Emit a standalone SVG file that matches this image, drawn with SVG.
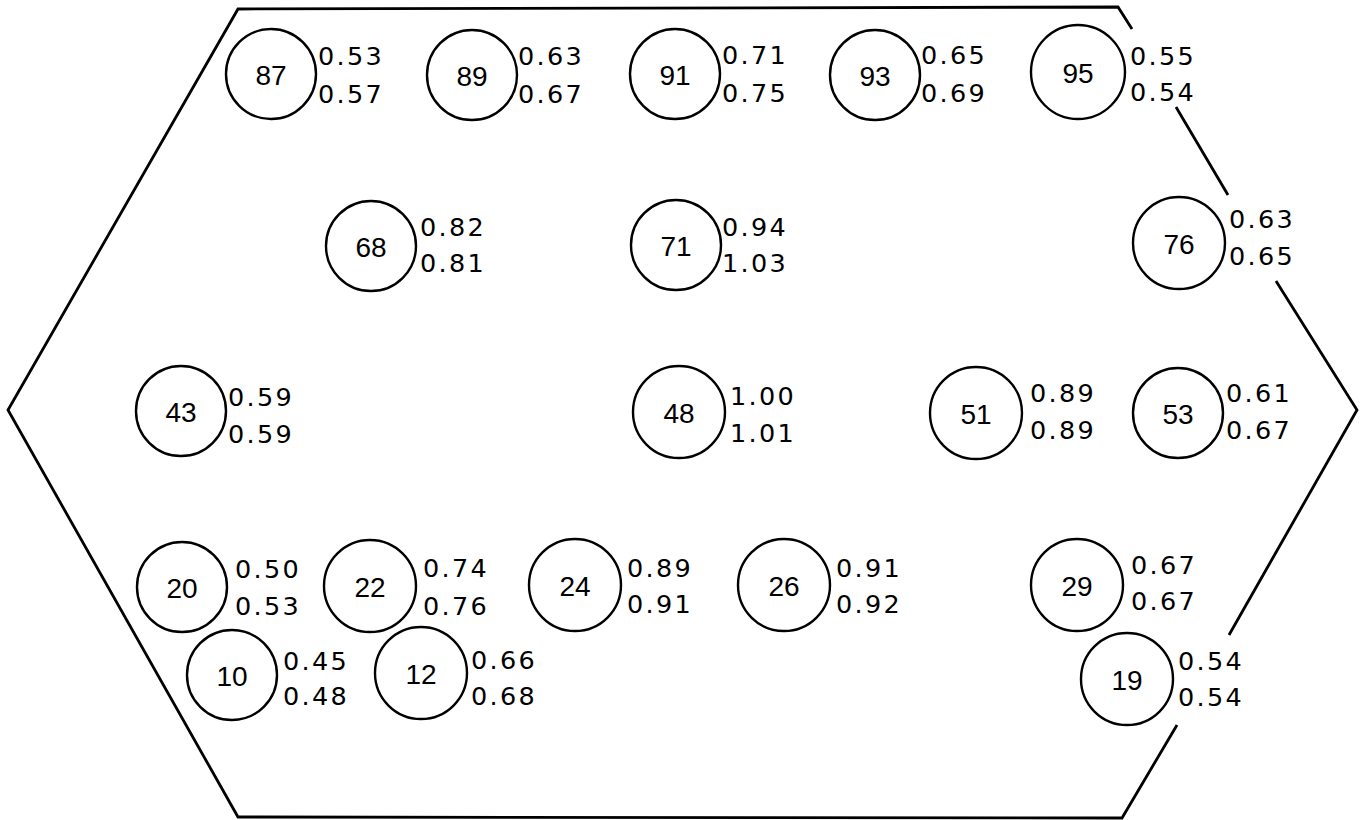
<svg xmlns="http://www.w3.org/2000/svg" width="1363" height="820" viewBox="0 0 1363 820">
  <style>
    .outline { fill: none; stroke: #000; stroke-width: 2.8; stroke-linejoin: miter; stroke-linecap: butt; }
    .ring { fill: none; stroke: #000; stroke-width: 2.4; }
    .id { font-family: "Liberation Sans", Arial, sans-serif; font-size: 28px; text-anchor: middle; fill: #000; }
    .val { font-family: "DejaVu Sans", "Liberation Sans", sans-serif; font-size: 25.5px; letter-spacing: 2.3px; fill: #000; }
  </style>
  <rect width="1363" height="820" fill="#fff"/>

  <!-- hexagonal boundary, broken where value labels cross it -->
  <g id="boundary">
    <path class="outline" d="M1132,29 L1118,7 L238,9 L8,410 L238,817 L1122,818 L1177,725 M1229,635 L1357,410 L1276,281 M1228,195 L1176,107"/>
  </g>

  <g id="connectors"></g>

  <g id="n87"><circle class="ring" cx="271" cy="74" r="45"/><text class="id" x="271" y="85">87</text><text class="val" x="318" y="65">0.53</text><text class="val" x="318" y="103">0.57</text></g>
  <g id="n89"><circle class="ring" cx="472" cy="75" r="45"/><text class="id" x="472" y="86">89</text><text class="val" x="518" y="65">0.63</text><text class="val" x="518" y="103">0.67</text></g>
  <g id="n91"><circle class="ring" cx="675" cy="74" r="45"/><text class="id" x="675" y="85">91</text><text class="val" x="722" y="64">0.71</text><text class="val" x="722" y="102">0.75</text></g>
  <g id="n93"><circle class="ring" cx="875" cy="75" r="45"/><text class="id" x="875" y="86">93</text><text class="val" x="921" y="64">0.65</text><text class="val" x="921" y="102">0.69</text></g>
  <g id="n95"><circle class="ring" cx="1078" cy="72" r="47"/><text class="id" x="1078" y="83">95</text><text class="val" x="1130" y="65">0.55</text><text class="val" x="1130" y="101">0.54</text></g>

  <g id="n68"><circle class="ring" cx="371" cy="246" r="45"/><text class="id" x="371" y="257">68</text><text class="val" x="420" y="236">0.82</text><text class="val" x="420" y="272">0.81</text></g>
  <g id="n71"><circle class="ring" cx="676" cy="245" r="45"/><text class="id" x="676" y="256">71</text><text class="val" x="722" y="236">0.94</text><text class="val" x="722" y="272">1.03</text></g>
  <g id="n76"><circle class="ring" cx="1179" cy="243" r="46"/><text class="id" x="1179" y="254">76</text><text class="val" x="1229" y="228">0.63</text><text class="val" x="1229" y="265">0.65</text></g>

  <g id="n43"><circle class="ring" cx="181" cy="411" r="45"/><text class="id" x="181" y="422">43</text><text class="val" x="228" y="406">0.59</text><text class="val" x="228" y="443">0.59</text></g>
  <g id="n48"><circle class="ring" cx="679" cy="412" r="46"/><text class="id" x="679" y="423">48</text><text class="val" x="730" y="405">1.00</text><text class="val" x="730" y="442">1.01</text></g>
  <g id="n51"><circle class="ring" cx="976" cy="413" r="46"/><text class="id" x="976" y="424">51</text><text class="val" x="1030" y="402">0.89</text><text class="val" x="1030" y="439">0.89</text></g>
  <g id="n53"><circle class="ring" cx="1178" cy="413" r="45"/><text class="id" x="1178" y="424">53</text><text class="val" x="1226" y="402">0.61</text><text class="val" x="1226" y="439">0.67</text></g>

  <g id="n20"><circle class="ring" cx="182" cy="587" r="45"/><text class="id" x="182" y="598">20</text><text class="val" x="235" y="578">0.50</text><text class="val" x="235" y="615">0.53</text></g>
  <g id="n22"><circle class="ring" cx="370" cy="586" r="46"/><text class="id" x="370" y="597">22</text><text class="val" x="423" y="577">0.74</text><text class="val" x="423" y="615">0.76</text></g>
  <g id="n24"><circle class="ring" cx="575" cy="585" r="46"/><text class="id" x="575" y="596">24</text><text class="val" x="627" y="577">0.89</text><text class="val" x="627" y="613">0.91</text></g>
  <g id="n26"><circle class="ring" cx="784" cy="585" r="46"/><text class="id" x="784" y="596">26</text><text class="val" x="836" y="577">0.91</text><text class="val" x="836" y="613">0.92</text></g>
  <g id="n29"><circle class="ring" cx="1077" cy="585" r="46"/><text class="id" x="1077" y="596">29</text><text class="val" x="1131" y="574">0.67</text><text class="val" x="1131" y="610">0.67</text></g>

  <g id="n10"><circle class="ring" cx="232" cy="675" r="45"/><text class="id" x="232" y="686">10</text><text class="val" x="283" y="670">0.45</text><text class="val" x="283" y="705">0.48</text></g>
  <g id="n12"><circle class="ring" cx="421" cy="673" r="46"/><text class="id" x="421" y="684">12</text><text class="val" x="471" y="669">0.66</text><text class="val" x="471" y="705">0.68</text></g>
  <g id="n19"><circle class="ring" cx="1127" cy="679" r="46"/><text class="id" x="1127" y="690">19</text><text class="val" x="1178" y="670">0.54</text><text class="val" x="1178" y="706">0.54</text></g>
</svg>
